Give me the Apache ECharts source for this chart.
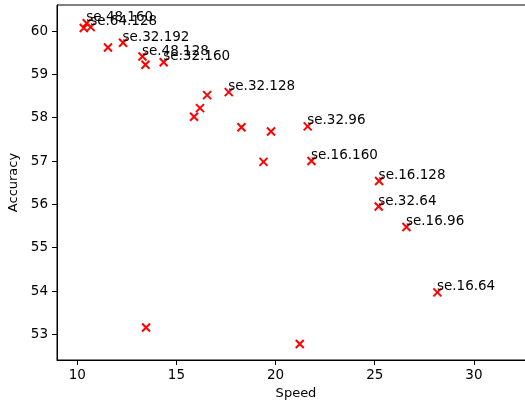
<!DOCTYPE html>
<html>
<head>
<meta charset="utf-8">
<script src="https://cdn.jsdelivr.net/npm/echarts@6/dist/echarts.min.js"></script>
<style>
html,body{margin:0;padding:0;background:#fff;}
#chart{width:525px;height:407px;}
</style>
</head>
<body>
<div id="chart"></div>
<script>
const speed = [10.33, 10.48, 10.68, 11.55, 12.31, 13.29, 13.44, 14.36, 16.55, 17.64, 16.19, 15.89, 18.28, 19.77, 21.62, 19.39, 21.81, 25.22, 25.20, 26.60, 28.16, 13.47, 21.22];
const accuracy = [60.07, 60.18, 60.09, 59.62, 59.73, 59.41, 59.22, 59.28, 58.52, 58.59, 58.22, 58.02, 57.78, 57.68, 57.80, 56.98, 57.00, 56.54, 55.95, 55.48, 53.97, 53.16, 52.78];
const names = ['', 'se.48.160', 'se.64.128', '', 'se.32.192', 'se.48.128', '', 'se.32.160', '', 'se.32.128', '', '', '', '', 'se.32.96', '', 'se.16.160', 'se.16.128', 'se.32.64', 'se.16.96', 'se.16.64', '', ''];
const xTicks = [10, 15, 20, 25, 30];
const yTicks = [53, 54, 55, 56, 57, 58, 59, 60];

const font = 'DejaVu Sans';
const data = speed.map((s, i) => [s, accuracy[i], names[i]]);

const chart = echarts.init(document.getElementById('chart'), null, {renderer: 'canvas'});
chart.setOption({
  animation: false,
  backgroundColor: '#fff',
  grid: {left: 57, top: 5, right: -10, bottom: 47, show: true, borderColor: '#000', borderWidth: 1, backgroundColor: 'transparent', containLabel: false, outerBoundsMode: 'none'},
  xAxis: {
    type: 'value', min: 8.98, max: 33.08,
    name: 'Speed', nameLocation: 'middle', nameGap: 27,
    nameTextStyle: {fontFamily: font, fontSize: 13, color: '#000'},
    axisLine: {show: true, lineStyle: {color: '#000', width: 1}},
    axisTick: {show: true, inside: false, length: 5, lineStyle: {color: '#000'}, customValues: xTicks},
    axisLabel: {fontFamily: font, fontSize: 13.5, color: '#000', margin: 8, customValues: xTicks},
    splitLine: {show: false}
  },
  yAxis: {
    type: 'value', min: 52.41, max: 60.6,
    name: 'Accuracy', nameLocation: 'middle', nameGap: 33, nameRotate: 90,
    nameTextStyle: {fontFamily: font, fontSize: 13, color: '#000'},
    axisLine: {show: true, lineStyle: {color: '#000', width: 1}},
    axisTick: {show: true, inside: false, length: 5, lineStyle: {color: '#000'}, customValues: yTicks},
    axisLabel: {fontFamily: font, fontSize: 13.5, color: '#000', margin: 9, customValues: yTicks},
    splitLine: {show: false}
  },
  series: [{
    type: 'scatter',
    data: data,
    symbol: 'path://M0,0L10,10M10,0L0,10',
    symbolSize: 8,
    itemStyle: {color: 'none', borderColor: '#ff0000', borderWidth: 2, opacity: 1},
    label: {
      show: true,
      position: [4, 4],
      align: 'left',
      verticalAlign: 'bottom',
      offset: [2, 4],
      fontFamily: font,
      fontSize: 13.5,
      color: '#000',
      formatter: p => p.data[2]
    },
    emphasis: {disabled: true}
  }]
});
</script>
</body>
</html>
